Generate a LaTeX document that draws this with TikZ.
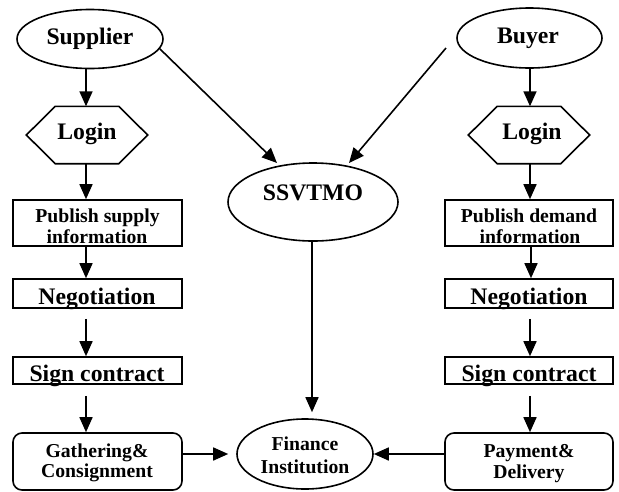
\documentclass[tikz,border=0pt]{standalone}
\usepackage{fontspec}
\setmainfont{Liberation Serif}
\usetikzlibrary{arrows.meta,shapes.geometric}
\tikzset{
  ln/.style={line width=1.6pt},
  arr/.style={ln,-{Triangle[length=15pt,width=13pt]}},
  ell/.style={draw,ln,ellipse,inner sep=0pt},
  rbox/.style={draw,ln,rectangle,inner sep=0pt},
  gbox/.style={draw,ln,rectangle,rounded corners=9pt,inner sep=0pt},
  hexn/.style={inner sep=0pt,minimum width=121pt,minimum height=57pt},
  bigt/.style={inner sep=0pt,anchor=base,font=\bfseries\fontsize{23.7}{25}\selectfont},
  smt/.style={inner sep=0pt,anchor=base,font=\bfseries\fontsize{19.7}{21}\selectfont},
}
\begin{document}
\begin{tikzpicture}[x=1pt,y=-1pt]
\useasboundingbox (0,0) rectangle (619,491);
% shapes
\node[ell,minimum width=146pt,minimum height=59pt] (sup) at (90,39) {};
\node[ell,minimum width=145pt,minimum height=60pt] (buy) at (529.5,38) {};
\node[hexn] (lgl) at (87,135) {};
\node[hexn] (lgr) at (529,135) {};
\foreach \h in {lgl,lgr}{
  \draw[ln,line join=miter] (\h.west) -- ([xshift=29pt]\h.north west) -- ([xshift=-29pt]\h.north east)
    -- (\h.east) -- ([xshift=-29pt]\h.south east) -- ([xshift=29pt]\h.south west) -- cycle;
}
\node[rbox,minimum width=169pt,minimum height=46pt] (psb) at (97.5,223) {};
\node[rbox,minimum width=168pt,minimum height=46pt] (pdb) at (529,223) {};
\node[rbox,minimum width=169pt,minimum height=29pt] (negl) at (97.5,293.5) {};
\node[rbox,minimum width=168pt,minimum height=29pt] (negr) at (529,293.5) {};
\node[rbox,minimum width=169pt,minimum height=27pt] (sigl) at (97.5,370.5) {};
\node[rbox,minimum width=168pt,minimum height=27pt] (sigr) at (529,370.5) {};
\node[gbox,minimum width=169pt,minimum height=57pt] (gath) at (97.5,461.5) {};
\node[gbox,minimum width=168pt,minimum height=57pt] (pay) at (529,461.5) {};
\node[ell,minimum width=170pt,minimum height=78pt] (ssv) at (313,202) {};
\node[ell,minimum width=136pt,minimum height=70pt] (fin) at (305,454) {};
% texts
\node[bigt] (tsup) at (90,44) {Supplier};
\node[bigt] (tbuy) at (528,43) {Buyer};
\node[bigt] (tlgl) at (87,139) {Login};
\node[bigt] (tlgr) at (532,139) {Login};
\node[smt] (tps1) at (97.5,222) {Publish supply};
\node[smt] (tps2) at (97,243) {information};
\node[smt] (tpd1) at (529,222) {Publish demand};
\node[smt] (tpd2) at (530,243) {information};
\node[bigt] (tngl) at (97,304) {Negotiation};
\node[bigt] (tngr) at (529,304) {Negotiation};
\node[bigt] (tsgl) at (97,381) {Sign contract};
\node[bigt] (tsgr) at (529,381) {Sign contract};
\node[smt] (tga1) at (97,457) {Gathering\&};
\node[smt] (tga2) at (97,477) {Consignment};
\node[smt] (tpa1) at (529,457) {Payment\&};
\node[smt] (tpa2) at (529,478) {Delivery};
\node[bigt] (tssv) at (313,200) {SSVTMO};
\node[smt] (tfi1) at (305,450) {Finance};
\node[smt] (tfi2) at (305,473) {Institution};
% coordinates
\coordinate (s1) at (277,163);
\coordinate (b0) at (446,48);
\coordinate (b1) at (349,163);
% connectors left
\draw[arr] (sup.south -| 86,0) -- (lgl.north -| 86,0);
\draw[arr] (lgl.south -| 86,0) -- (psb.north -| 86,0);
\draw[arr] (psb.south -| 86,0) -- (negl.north -| 86,0);
\draw[arr] ([yshift=-10pt]negl.south -| 86,0) -- (sigl.north -| 86,0);
\draw[arr] ([yshift=-11pt]sigl.south -| 86,0) -- (gath.north -| 86,0);
% connectors right
\draw[arr] (buy.south -| 530,0) -- (lgr.north -| 530,0);
\draw[arr] (lgr.south -| 530,0) -- (pdb.north -| 530,0);
\draw[arr] (pdb.south -| 531,0) -- (negr.north -| 531,0);
\draw[arr] ([yshift=-10pt]negr.south -| 530,0) -- (sigr.north -| 530,0);
\draw[arr] ([yshift=-11pt]sigr.south -| 530,0) -- (pay.north -| 530,0);
% middle
\draw[arr] (sup.-8) -- (s1);
\draw[arr] (b0) -- (b1);
\draw[arr] (ssv.south -| 312,0) -- ([yshift=6pt]fin.north -| 312,0);
\draw[arr] (fin.west -| gath.east) -- ([xshift=-8pt]fin.west);
\draw[arr] (fin.east -| pay.west) -- (fin.east);
\end{tikzpicture}
\end{document}
